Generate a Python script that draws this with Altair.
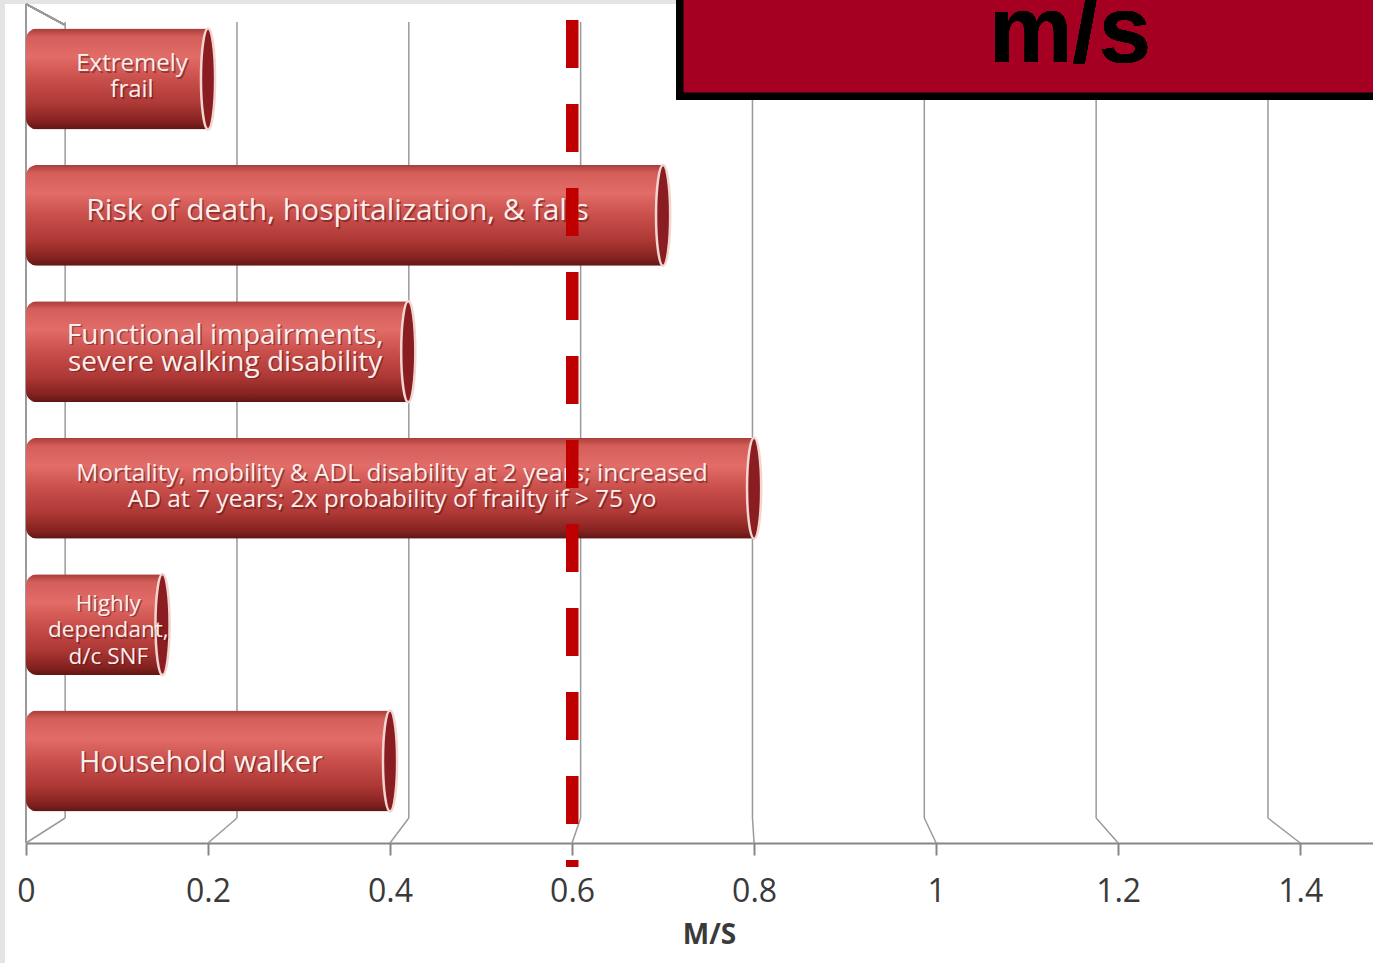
import altair as alt
import pandas as pd

# ---- data -------------------------------------------------------------
categories = [
    "Extremely\nfrail",
    "Risk of death, hospitalization, & falls",
    "Functional impairments,\nsevere walking disability",
    "Mortality, mobility & ADL disability at 2 years; increased\nAD at 7 years; 2x probability of frailty if > 75 yo",
    "Highly\ndependant,\nd/c SNF",
    "Household walker",
]
speeds = [0.2, 0.7, 0.42, 0.8, 0.15, 0.4]
tick_values = [0, 0.2, 0.4, 0.6, 0.8, 1.0, 1.2, 1.4]
threshold = 0.6
axis_title = "M/S"
banner_text = "m/s"

# ---- layout / style ---------------------------------------------------
W, H = 1347, 796            # plot area
X_MAX = 1.48                # right end of the speed scale
BAR_PX = 101                # band width of each cylinder
BACK_OFFSET, BACK_SCALE = 0.043, 0.944   # back wall of the 3-D box, in axis units
FLOOR_DEPTH = 25            # vertical depth of the floor in px
GRID = "#9a9a9a"
AXIS = "#868686"
TEXT = "#3a3a3a"
FONT = "Open Sans"

# per-label font size, line height and nudges (dx, dy of the first line)
label_style = {
    categories[0]: (24, 26, 15, -15),
    categories[1]: (30, 30, -7, -4),
    categories[2]: (28, 27, 8, -16),
    categories[3]: (24.5, 26, 2, -14),
    categories[4]: (22.5, 26.5, 14, -21),
    categories[5]: (29, 30, -7, 2),
}

bars = pd.DataFrame({"category": categories, "speed": speeds})
ticks = pd.DataFrame({"value": tick_values})

xscale = alt.Scale(domain=[0, X_MAX], nice=False, zero=True)
yscale = alt.Scale(domain=categories, paddingInner=0.26, paddingOuter=0.048)
Y = alt.Y("category:N", scale=yscale, axis=None, sort=categories)

# back-wall gridlines and their slant across the floor to the front ticks
grid_base = alt.Chart(ticks).transform_calculate(
    back=f"{BACK_OFFSET} + {BACK_SCALE} * datum.value"
)
grid_wall = grid_base.mark_rule(color=GRID, strokeWidth=1.5).encode(
    x=alt.X("back:Q", scale=xscale),
    y=alt.value(0),
    y2=alt.value(H),
)
grid_floor = grid_base.mark_rule(color=GRID, strokeWidth=1.5).encode(
    x=alt.X("back:Q", scale=xscale),
    x2="value:Q",
    y=alt.value(H),
    y2=alt.value(H + FLOOR_DEPTH),
)

# left wall edges
wall_front = alt.Chart(ticks).mark_rule(color=GRID, strokeWidth=1.5).encode(
    x=alt.value(0), y=alt.value(-18), y2=alt.value(H + FLOOR_DEPTH)
)
wall_top = alt.Chart(ticks).mark_rule(color=GRID, strokeWidth=1.5).encode(
    x=alt.value(0), x2=alt.value(39), y=alt.value(-18), y2=alt.value(3)
)

# thin grey frame at top and left edges
frame_top = alt.Chart(ticks).mark_rect(color="#e4e4e4").encode(
    x=alt.value(-26), x2=alt.value(652), y=alt.value(-22), y2=alt.value(-18)
)
frame_left = alt.Chart(ticks).mark_rect(color="#e4e4e4").encode(
    x=alt.value(-26), x2=alt.value(-21), y=alt.value(-22), y2=alt.value(H + 145)
)

# cylinders
cyl_fill = alt.LinearGradient(
    gradient="linear",
    x1=0, x2=0, y1=0, y2=1,
    stops=[
        alt.GradientStop(color="#a83c39", offset=0),
        alt.GradientStop(color="#d45e59", offset=0.08),
        alt.GradientStop(color="#e26c67", offset=0.28),
        alt.GradientStop(color="#c94f4b", offset=0.5),
        alt.GradientStop(color="#ad3835", offset=0.75),
        alt.GradientStop(color="#82211f", offset=0.93),
        alt.GradientStop(color="#5e1616", offset=1),
    ],
)
bar_layer = alt.Chart(bars).mark_bar(
    fill=cyl_fill, cornerRadiusTopLeft=11, cornerRadiusBottomLeft=11
).encode(
    x=alt.X(
        "speed:Q",
        scale=xscale,
        title=axis_title,
        axis=alt.Axis(
            values=tick_values,
            format="~g",
            grid=False,
            offset=FLOOR_DEPTH,
            domainColor=AXIS,
            domainWidth=2,
            tickColor=AXIS,
            tickWidth=2,
            tickSize=12,
            labelFont=FONT,
            labelFontSize=32,
            labelColor=TEXT,
            labelPadding=21,
            labelFlush=False,
            titleFont=FONT,
            titleFontSize=28,
            titleFontWeight="bold",
            titleColor=TEXT,
            titlePadding=14,
            titleX=683,
        ),
    ),
    y=Y,
)

ellipse = "M0,-1 A0.14,1 0 1,1 0,1 A0.14,1 0 1,1 0,-1 Z"
caps = alt.Chart(bars).mark_point(
    shape=ellipse,
    size=BAR_PX ** 2,
    filled=True,
    fill="#8a1d22",
    stroke="#f3d5cf",
    strokeWidth=2.5,
    opacity=1,
).encode(x=alt.X("speed:Q", scale=xscale), y=Y)

# labels inside the cylinders
label_layers = []
for cat in categories:
    fs, lh, ddx, ddy = label_style[cat]
    base = alt.Chart(bars).transform_filter(
        alt.FieldEqualPredicate(field="category", equal=cat)
    ).transform_calculate(mid="datum.speed / 2")
    for color, off in (("#5a1212", 1.5), ("#fbefee", 0)):
        label_layers.append(
            base.mark_text(
                font=FONT,
                fontSize=fs,
                lineHeight=lh,
                lineBreak="\n",
                align="center",
                baseline="middle",
                color=color,
                opacity=0.5 if off else 1,
                dx=ddx + off,
                dy=ddy + off,
            ).encode(
                x=alt.X("mid:Q", scale=xscale),
                y=Y,
                text="category:N",
            )
        )

# threshold marker
thresh = alt.Chart(ticks).mark_rule(
    color="#c00000", strokeWidth=12, strokeDash=[48, 36]
).encode(
    x=alt.datum(threshold, scale=xscale),
    y=alt.value(-2),
    y2=alt.value(H + 49),
)

# banner in the top right corner
banner = alt.Chart(ticks).mark_rect(
    fill="#a50021", stroke="black", strokeWidth=7
).encode(
    x=alt.value(654), x2=alt.value(1380), y=alt.value(-40), y2=alt.value(74)
)
banner_label = alt.Chart(ticks).mark_text(
    text=banner_text,
    font="Liberation Sans",
    fontWeight="bold",
    fontSize=94,
    color="black",
    align="center",
    baseline="alphabetic",
).encode(x=alt.value(1044), y=alt.value(40))

chart = alt.layer(
    frame_top, frame_left,
    grid_wall, grid_floor, wall_front, wall_top,
    bar_layer, caps, *label_layers,
    thresh, banner, banner_label,
).properties(
    width=W,
    height=H,
    autosize=alt.AutoSizeParams(type="none"),
    padding={"left": 26, "top": 22, "right": 0, "bottom": 145},
    background="white",
).configure_view(stroke=None)

chart.save("out.html", embed_options={"renderer": "svg", "actions": False})
